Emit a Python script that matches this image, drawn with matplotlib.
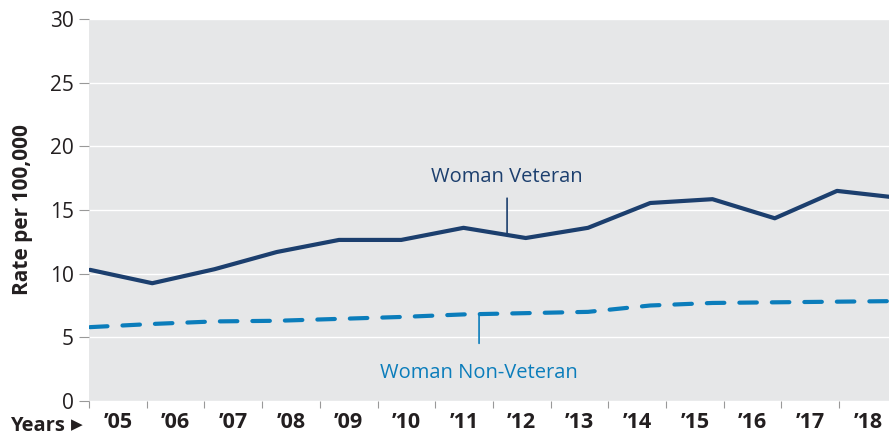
import numpy as np
import matplotlib.pyplot as plt

# donnees
years = [2005, 2006, 2007, 2008, 2009, 2010, 2011, 2012, 2013, 2014, 2015, 2016, 2017, 2018]
veteran = [10.3, 9.25, 10.35, 11.7, 12.65, 12.65, 13.6, 12.8, 13.6, 15.55, 15.85, 14.35, 16.5, 15.95]
non_veteran = [5.8, 6.05, 6.25, 6.3, 6.45, 6.6, 6.8, 6.9, 7.0, 7.5, 7.7, 7.75, 7.8, 7.85]
tick_years = years
tick_labels = ["\u2019%02d" % (y % 100) for y in tick_years]

navy = '#1c3f6e'
blue = '#0b7dbb'
txt = '#231f20'

# dans l'original, les points ne tombent pas exactement sur les graduations
px_data = 62.25   # pixels par annee pour les courbes
px_tick = 57.7    # pixels par annee pour les graduations
x0 = 2005 - 1 / px_data
k = px_data / px_tick

plt.rcParams['font.family'] = ['Open Sans', 'DejaVu Sans']

fig = plt.figure(figsize=(8.89, 4.4), dpi=100)
ax = fig.add_axes([89/889, 39/440, 800/889, 382/440])
ax.set_facecolor('#e6e7e8')

ax.plot(years, veteran, color=navy, lw=3, solid_capstyle='round', zorder=3)
ax.plot(years, non_veteran, color=blue, lw=3, dashes=(4.2, 3.6), dash_capstyle='round', zorder=3)

ax.set_xlim(x0, x0 + 800 / px_data)
ax.set_ylim(0, 30)
ax.set_yticks(range(0, 31, 5))
ax.set_xticks([])
ax.grid(axis='y', color='white', lw=1)
ax.set_axisbelow(True)
for s in ax.spines.values():
    s.set_visible(False)
ax.tick_params(axis='y', length=7, color='#999999', labelsize=15, pad=4, labelcolor=txt)
ax.set_ylabel('Rate per 100,000', fontsize=15, fontweight='bold', labelpad=12, color=txt)

# axe des annees : traits aux annees, etiquettes entre les traits
sec = ax.secondary_xaxis('bottom', functions=(lambda x: 2005 + (x - x0) * k,
                                             lambda t: x0 + (t - 2005) / k))
sec.spines['bottom'].set_visible(False)
sec.set_xticks(tick_years)
sec.set_xticklabels([])
sec.set_xticks([y + 0.5 for y in tick_years], minor=True)
sec.set_xticklabels(tick_labels, minor=True, fontweight='bold')
sec.tick_params(axis='x', which='major', length=5, color='#999999')
sec.tick_params(axis='x', which='minor', length=0, labelsize=15.5, pad=8, labelcolor=txt)

# annotations
ax.annotate('Woman Veteran', xy=(2011.7, 13.0), xytext=(2011.7, 16.8),
            ha='center', va='bottom', fontsize=14.5, color=navy,
            arrowprops=dict(arrowstyle='-', color=navy, lw=1.2, shrinkA=6, shrinkB=0))
ax.annotate('Woman Non-Veteran', xy=(2011.25, 6.85), xytext=(2011.25, 3.0),
            ha='center', va='top', fontsize=14.5, color=blue,
            arrowprops=dict(arrowstyle='-', color=blue, lw=1.2, shrinkA=12, shrinkB=0))

fig.text(10/889, 1 - 426/440, 'Years', fontsize=14.5, fontweight='bold',
         va='center', ha='left', color=txt)
fig.text(71/889, 1 - 425/440, '\u25b6', fontsize=11, family='DejaVu Sans',
         va='center', ha='left', color=txt)

fig.savefig('out.png', dpi=100)
